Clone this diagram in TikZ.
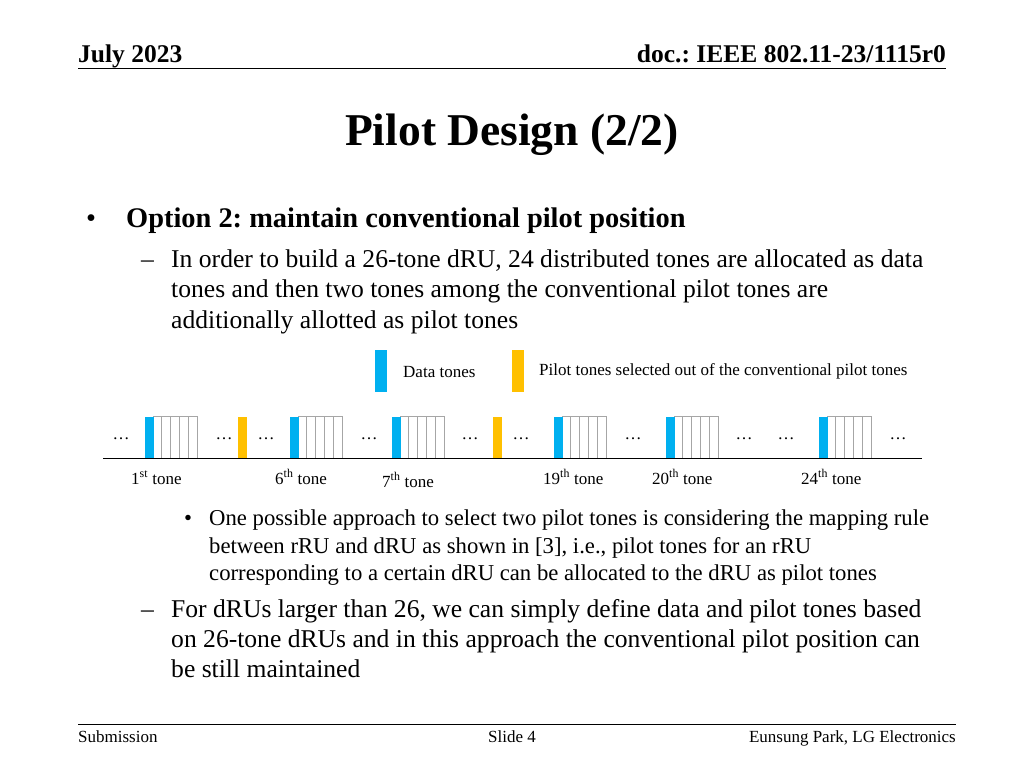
\documentclass[tikz,border=0pt]{standalone}
\usepackage{fontspec}
\setmainfont{Liberation Serif}
\frenchspacing
\definecolor{tblue}{HTML}{00B0F0}
\definecolor{tyellow}{HTML}{FFC000}
\definecolor{cellgray}{HTML}{A6A6A6}
\tikzset{
  txt/.style={anchor=base west, inner sep=0pt, font=\fontsize{25.6}{30}\selectfont},
  sub/.style={anchor=base west, inner sep=0pt, font=\fontsize{22.7}{27}\selectfont},
  small/.style={anchor=base west, inner sep=0pt, font=\fontsize{17}{20}\selectfont},
  dots/.style={anchor=base, inner sep=0pt, font=\fontsize{17}{20}\selectfont},
  datatone/.style={fill=tblue, draw=none},
  pilottone/.style={fill=tyellow, draw=none},
  cell/.style={draw=cellgray, line width=0.8pt, fill=white},
}
\newcommand{\tonegrp}[1]{%
  \foreach \k in {0,...,4} {\draw[cell] ({#1+8+\k*8.8},416.5) rectangle ({#1+8+(\k+1)*8.8},458);}
  \fill[datatone] (#1,416.5) rectangle ({#1+8.5},458);
}
\begin{document}
\begin{tikzpicture}[x=1pt,y=-1pt]
\useasboundingbox (0,0) rectangle (1024,768);
% header
\node[anchor=base west, inner sep=0pt, font=\fontsize{25.5}{30}\selectfont\bfseries] (hdl) at (78,63) {July 2023};
\node[anchor=base east, inner sep=0pt, font=\fontsize{25.5}{30}\selectfont\bfseries] (hdr) at (946,63) {doc.: IEEE 802.11-23/1115r0};
\draw[line width=1.5pt] (78,68.5) -- (946,68.5);
% title
\node[anchor=base, inner sep=0pt, font=\fontsize{45.5}{50}\selectfont\bfseries] (title) at (512,145) {Pilot Design (2/2)};
% bullets
\node[anchor=base west, inner sep=0pt, font=\fontsize{28.4}{32}\selectfont] (b1) at (86,227) {•};
\node[anchor=base west, inner sep=0pt, font=\fontsize{28.4}{32}\selectfont\bfseries] (opt) at (126,227) {Option 2: maintain conventional pilot position};
\node[txt] (d1) at (141,267) {–};
\node[txt] (l1) at (171,267) {In order to build a 26-tone dRU, 24 distributed tones are allocated as data};
\node[txt] (l2) at (171,297) {tones and then two tones among the conventional pilot tones are};
\node[txt] (l3) at (171,328) {additionally allotted as pilot tones};
% legend
\fill[datatone] (375,350) rectangle (387,392);
\node[small] (lgd) at (403,377) {Data tones};
\fill[pilottone] (512,350) rectangle (523.5,392);
\node[small] (lgp) at (539,375) {Pilot tones selected out of the conventional pilot tones};
% tone diagram
\tonegrp{145}
\tonegrp{290}
\tonegrp{392}
\tonegrp{554}
\tonegrp{666}
\tonegrp{819}
\fill[pilottone] (238,417) rectangle (247,458);
\fill[pilottone] (493,417) rectangle (502,458);
\draw[line width=1.5pt] (103,458.5) -- (922,458.5);
\foreach \x in {121,224,266,369,470,521,633,744,786,898} {\node[dots] at (\x,439) {…};}
\node[small] (t1) at (131,484) {1\textsuperscript{st} tone};
\node[small] (t6) at (275,484) {6\textsuperscript{th} tone};
\node[small] (t7) at (382,487) {7\textsuperscript{th} tone};
\node[small] (t19) at (543,484) {19\textsuperscript{th} tone};
\node[small] (t20) at (652,484) {20\textsuperscript{th} tone};
\node[small] (t24) at (801,484) {24\textsuperscript{th} tone};
% sub bullet
\node[sub] (b2) at (184,525) {•};
\node[sub] (s1) at (209,525) {One possible approach to select two pilot tones is considering the mapping rule};
\node[sub] (s2) at (209,553) {between rRU and dRU as shown in [3], i.e., pilot tones for an rRU};
\node[sub] (s3) at (209,580) {corresponding to a certain dRU can be allocated to the dRU as pilot tones};
% second dash
\node[txt] (d2) at (141,617) {–};
\node[txt] (m1) at (171,617) {For dRUs larger than 26, we can simply define data and pilot tones based};
\node[txt] (m2) at (171,647) {on 26-tone dRUs and in this approach the conventional pilot position can};
\node[txt] (m3) at (171,677) {be still maintained};
% footer
\draw[line width=1pt] (78,724.5) -- (956,724.5);
\node[small] (f1) at (78,742) {Submission};
\node[dots] (f2) at (512,742) {Slide 4};
\node[anchor=base east, inner sep=0pt, font=\fontsize{17}{20}\selectfont] (f3) at (956,742) {Eunsung Park, LG Electronics};
\end{tikzpicture}
\end{document}
